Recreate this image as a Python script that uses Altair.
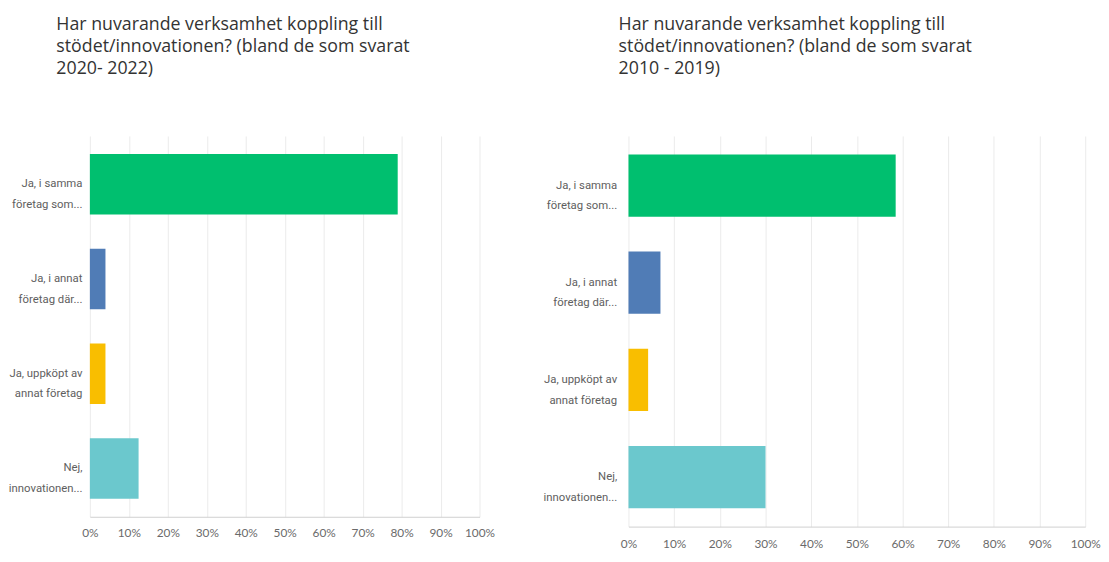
import altair as alt
import pandas as pd

categories = [
    "Ja, i samma\nföretag som...",
    "Ja, i annat\nföretag där...",
    "Ja, uppköpt av\nannat företag",
    "Nej,\ninnovationen...",
]
colors = ["#00BF6F", "#507CB6", "#F9BE00", "#6BC8CD"]
values_2020_2022 = [79, 4, 4, 12.5]
values_2010_2019 = [58.5, 7, 4.3, 30]
title_left = ["Har nuvarande verksamhet koppling till",
              "stödet/innovationen? (bland de som svarat",
              "2020- 2022)"]
title_right = ["Har nuvarande verksamhet koppling till",
               "stödet/innovationen? (bland de som svarat",
               "2010 - 2019)"]

label_font = "Roboto"
tick_font = "Lato"
title_font = "Open Sans"


def panel(values, title, width, height, tdx, toffset, lpad, ypad):
    df = pd.DataFrame({"kategori": categories, "andel": [v / 100 for v in values]})
    return alt.Chart(df).mark_bar().encode(
        x=alt.X("andel:Q",
                scale=alt.Scale(domain=[0, 1], nice=False),
                axis=alt.Axis(format="%", values=[i / 10 for i in range(11)],
                              title=None, grid=True, gridColor="#EBEBEB",
                              domainColor="#CFCFCF", ticks=False,
                              labelOverlap=False, labelFlush=False,
                              labelFont=tick_font, labelFontSize=12,
                              labelColor="#6A6A6A", labelPadding=lpad)),
        y=alt.Y("kategori:N", sort=categories,
                scale=alt.Scale(paddingInner=0.36, paddingOuter=0.19),
                axis=alt.Axis(title=None, ticks=False, domain=False,
                              labelExpr="split(datum.label, '\\n')",
                              labelFont=label_font, labelFontSize=11.5,
                              labelLineHeight=21, labelColor="#5E5E5E",
                              labelPadding=ypad)),
        color=alt.Color("kategori:N", sort=categories,
                        scale=alt.Scale(domain=categories, range=colors),
                        legend=None),
    ).properties(
        width=width, height=height,
        title=alt.TitleParams(title, anchor="start", frame="group",
                              font=title_font, fontSize=18, fontWeight="normal",
                              color="#333333", lineHeight=22, dx=tdx,
                              offset=toffset),
    )


left = panel(values_2020_2022, title_left, 395, 386, -34, 59, 11, 8)
right = panel(values_2010_2019, title_right, 463, 396, -10, 59, 12, 12)

chart = alt.hconcat(left, right, spacing=48).properties(
    padding={"left": 0, "top": 5, "right": 0, "bottom": 0}
).configure_view(strokeWidth=0)

chart.save("out.html", embed_options={"renderer": "svg", "actions": False})
